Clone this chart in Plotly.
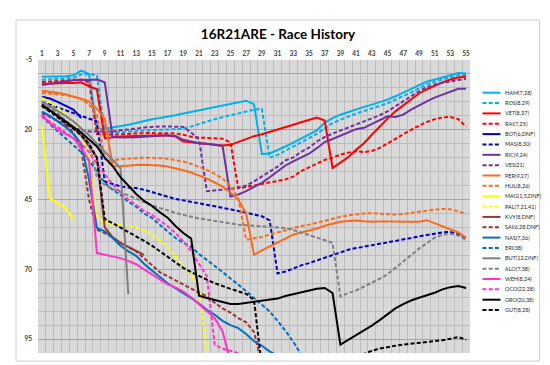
import plotly.graph_objects as go

laps = list(range(1, 56))
x_ticks = list(range(1, 56, 2))
y_ticks = [-5, 20, 45, 70, 95]

HAM = [1.0,1.0,0.8,0.8,0.5,-1.2,0.0,19.8,19.6,19.2, 18.6,18.2,17.6,16.9,16.2,15.8,15.4,14.8,14.2,13.6,
       13.0,12.4,11.8,11.2,10.7,10.2,9.6,10.8,28.7,28.5, 27.3,26.0,24.6,23.2,21.8,20.2,17.5,15.8,14.6,13.6,
       12.6,11.8,11.0,10.2,9.2,8.0,6.6,5.4,4.0,2.8, 2.0,1.2,0.5,-0.3,-0.2]
ROS = [2.1,2.0,1.8,1.6,1.4,0.2,0.0,0.5,20.8,21.0, 20.8,20.6,20.4,20.2,20.1,20.0,19.9,19.8,19.7,18.8,
       17.9,17.0,16.2,15.5,14.8,14.0,13.4,12.8,12.5,30.0, 29.0,27.5,26.0,24.5,23.0,21.5,19.5,17.6,16.4,15.2,
       14.2,13.3,12.4,11.5,10.5,9.2,8.0,6.6,5.2,3.8, 2.8,1.9,1.2,0.5,0.4]
VET = [3.6,3.4,3.3,3.2,3.2,3.0,4.4,5.5,23.0,22.6, 22.4,22.3,22.2,22.1,22.0,22.0,22.1,22.4,24.2,24.5,
       24.8,25.1,25.4,25.6,25.4,24.3,23.2,22.3,21.6,20.8, 20.0,19.1,18.2,17.3,16.5,15.6,16.7,33.7,31.8,29.8,
       27.2,24.8,21.8,18.8,16.0,13.4,11.2,9.0,7.0,5.5, 4.2,3.0,2.0,1.3,0.9]
RAI = [2.9,2.7,2.5,2.3,2.3,2.0,3.0,21.5,21.6,21.8, 21.6,21.4,21.3,21.2,21.2,21.2,21.2,21.3,21.8,22.5,
       22.8,23.0,23.0,23.2,24.5,41.0,40.5,40.0,39.5,38.9, 38.3,37.8,36.8,34.8,33.5,32.0,30.8,30.0,28.9,28.2,
       27.7,28.0,27.6,26.5,25.0,23.3,21.6,20.0,18.5,17.2, 16.2,15.6,15.4,16.2,18.8]
BOT = [8.2,8.8,10.0,11.5,12.8,15.8]
MAS = [10.0,11.0,12.0,13.0,14.0,15.0,16.0,17.0,38.5,39.5, 40.3,40.7,40.9,41.5,42.3,43.2,44.0,44.8,45.3,45.8,
       46.3,46.9,47.5,48.0,48.5,49.1,49.7,50.4,51.0,52.5, 71.5,70.8,69.6,68.6,67.8,66.8,65.8,64.8,63.8,63.0,
       62.4,61.9,61.5,61.0,60.4,59.8,59.3,58.8,58.2,57.7, 57.2,56.8,56.6,57.5,58.8]
RIC = [4.0,3.5,3.0,2.6,2.3,2.1,2.2,2.0,3.0,22.6, 22.8,22.8,22.7,22.5,22.3,22.2,22.0,22.2,23.6,24.2,
       24.8,25.0,25.3,25.8,43.9,43.2,42.0,40.6,39.0,37.0, 34.9,32.8,31.3,29.8,28.6,26.6,24.4,23.3,22.1,20.9,
       19.8,19.3,18.0,16.6,15.2,15.4,14.6,12.8,11.2,9.8, 8.5,7.4,6.2,5.3,5.3]
VES = [14.0,15.5,17.0,18.2,19.2,20.2,20.6,20.6,20.8,20.6, 20.2,20.0,19.6,19.2,18.9,18.8,18.8,18.8,19.0,21.0,
       23.5,42.0,41.8,41.5,41.2,40.8,40.0,38.5,36.8,35.0, 33.2,31.0,29.9,27.9,26.4,24.2,22.6,21.4,20.3,19.3,
       18.2,17.2,16.0,14.8,13.4,11.6,9.8,8.0,6.2,4.8, 3.8,3.2,2.6,2.2,1.7]
PER = [6.0,6.3,6.7,7.3,8.0,8.9,9.8,12.5,16.0,33.0, 33.1,32.8,32.6,32.5,32.6,32.8,33.2,33.8,34.5,35.3,
       36.3,37.5,38.9,40.4,42.5,45.0,50.0,64.8,63.2,61.8, 60.2,58.8,57.6,56.8,56.2,55.4,54.4,53.6,53.0,52.7,
       52.5,52.8,53.0,52.9,52.8,52.9,53.0,53.1,53.0,52.4, 53.5,54.6,55.6,56.8,58.6]
HUL = [6.8,7.0,7.2,7.6,8.2,9.0,11.0,14.5,30.5,31.0, 30.6,30.3,30.1,30.0,30.0,30.1,30.4,30.8,31.4,32.2,
       33.2,34.4,35.8,37.5,40.0,44.5,59.4,59.0,58.4,57.6, 56.8,56.0,55.2,54.5,54.0,53.3,52.5,51.8,51.2,50.7,
       50.3,50.0,49.9,50.1,50.3,50.4,50.2,49.8,49.3,48.9, 48.6,48.4,48.5,49.2,50.2]
MAG = [18.5,44.5,46.3,48.0,52.2]
PAL = [8.6,10.0,12.0,14.5,17.0,22.0,30.0,51.0,53.4,53.8, 54.2,54.6,55.0,56.0,57.6,59.6,62.0,65.5,69.0,72.0,
       76.0,101.0,104.0]
KVY = [11.5,13.0,15.0,17.0,19.5,22.0,26.0,30.0,55.0,58.5, 60.5,62.0,63.5,64.8]
SAI = [11.0,13.0,15.5,18.0,21.0,27.0,45.0,55.8,57.0,58.5, 60.6,62.0,63.6,66.0,68.5,71.0,72.5,74.0,75.5,77.0,
       78.4,79.6,82.0,84.0,85.5,87.5,89.0,92.5,104.0]
NAS = [13.5,15.0,17.0,19.0,21.5,25.0,38.0,55.2,56.4,58.8, 61.6,63.6,65.2,68.0,70.4,72.6,75.0,76.8,78.5,80.3,
       82.3,84.5,86.3,88.5,90.0,91.1,93.2,95.8,97.4,99.4, 101.0,103.0]
ERI = [15.0,18.0,20.5,23.0,25.5,28.0,31.0,35.0,39.0,41.5, 43.4,45.8,47.6,50.0,51.6,54.0,56.4,58.8,60.5,62.0,
       64.5,66.5,68.8,71.0,73.2,75.5,77.8,80.3,82.6,85.1, 88.5,92.0,96.0,100.5,103.0]
BUT = [9.8,11.5,13.0,15.0,17.0,19.5,22.0,25.0,28.0,31.0, 33.7,79.0]
ALO = [10.2,12.0,14.2,16.5,19.0,21.5,25.0,37.0,39.8,41.2, 42.4,43.6,44.8,46.0,47.0,48.0,49.0,49.8,50.5,51.2,
       51.8,52.2,52.7,53.1,53.6,54.0,54.2,54.4,54.5,54.6, 54.8,55.2,55.9,56.8,57.8,58.8,59.7,60.5,79.7,78.5,
       77.6,76.2,74.9,73.4,71.8,69.6,67.2,64.9,62.6,60.5, 58.7,57.6,57.3,57.9,59.4]
WEH = [14.6,17.5,20.0,21.5,23.0,26.5,31.0,64.2,64.8,65.3, 66.0,67.0,68.2,70.0,71.8,73.8,75.4,76.5,78.0,80.0,
       82.6,85.0,87.5,92.3,103.0]
OCO = [15.5,17.0,19.0,21.0,23.0,25.0,28.0,32.0,36.0,39.5, 42.5,45.0,47.0,49.0,50.5,52.5,54.5,57.0,60.0,63.5,
       68.0,72.5,97.0,98.5,99.2,100.0,101.0]
GRO = [11.0,13.0,15.0,17.0,19.0,21.0,23.5,26.0,30.0,33.0, 37.0,40.0,43.0,45.5,47.3,49.5,51.5,54.5,57.0,59.0,
       79.5,80.3,81.0,81.5,82.4,82.4,82.0,81.6,81.3,81.0, 80.5,79.6,79.0,78.3,77.6,77.0,76.7,78.5,97.0,95.3,
       93.8,92.0,90.2,88.2,86.0,84.0,82.5,81.2,80.2,79.4, 78.4,77.2,76.4,76.0,76.7]
GUT = [11.5,13.5,15.5,17.5,19.5,22.0,25.0,30.0,52.0,53.5, 55.0,56.5,58.0,59.8,61.5,63.5,65.5,67.5,69.5,71.0,
       72.5,73.7,75.0,76.1,77.0,77.9,78.8,81.0,105.0,107.0, 109.0,110.0,110.0,111.0,111.0,110.0,109.0,108.0,106.0,104.0,
       101.5,100.3,99.2,98.4,97.8,97.4,97.0,96.7,96.4,96.2, 95.9,95.4,94.9,94.3,95.2]

names = ["HAM(7,28)", "ROS(8,29)", "VET(8,37)", "RAI(7,25)", "BOT(6,DNF)", "MAS(8,30)",
         "RIC(9,24)", "VES(21)", "PER(9,27)", "HUL(8,26)", "MAG(1,5,DNF)", "PAL(7,21,41)",
         "KVY(8,DNF)", "SAI(6,28,DNF)", "NAS(7,36)", "ERI(38)", "BUT(12,DNF)", "ALO(7,38)",
         "WEH(8,24)", "OCO(22,38)", "GRO(20,38)", "GUT(8,28)"]
series = [HAM, ROS, VET, RAI, BOT, MAS, RIC, VES, PER, HUL, MAG, PAL,
          KVY, SAI, NAS, ERI, BUT, ALO, WEH, OCO, GRO, GUT]
colors = ["#00B0F0", "#00B0F0", "#FF0000", "#FF0000", "#0000C8", "#0000C8",
          "#7030A0", "#7030A0", "#FF6A1A", "#FF6A1A", "#FFFF00", "#FFFF00",
          "#963634", "#963634", "#0070C0", "#0070C0", "#808080", "#808080",
          "#FF33CC", "#FF33CC", "#000000", "#000000"]
DASH = "4px,2.2px"

fig = go.Figure()
for i, (nm, vals) in enumerate(zip(names, series)):
    fig.add_trace(go.Scatter(
        x=laps[:len(vals)], y=vals, mode="lines", name=nm,
        line=dict(color=colors[i], width=2, dash="solid" if i % 2 == 0 else DASH),
        showlegend=False))

W, H = 550, 365
L, R, T, B = 30, 462.5, 52, 345
pw, ph = R - L, B - T

def px(x):
    return (x - L) / pw

def py(y):
    return (B - y) / ph

shapes = []
annotations = []
shapes.append(dict(type="rect", xref="paper", yref="paper",
                   x0=px(8), x1=px(532), y0=py(353), y1=py(12),
                   line=dict(color="#D0D0D0", width=1), layer="below"))
for i, nm in enumerate(names):
    yy = 84.7 + i * 10.35
    shapes.append(dict(type="line", xref="paper", yref="paper",
                       x0=px(475), x1=px(493), y0=py(yy), y1=py(yy),
                       line=dict(color=colors[i], width=2,
                                 dash="solid" if i % 2 == 0 else DASH)))
    annotations.append(dict(xref="paper", yref="paper", x=px(495.5), y=py(yy),
                            text=nm, showarrow=False, xanchor="left", yanchor="middle",
                            font=dict(size=5.5, color="#262626", family="Lato")))

fig.update_layout(
    width=W, height=H,
    margin=dict(l=L, r=W - R, t=T, b=H - B, pad=0),
    paper_bgcolor="white", plot_bgcolor="#D9D9D9",
    title=dict(text="<b>16R21ARE - Race History</b>", x=270 / W, xanchor="center",
               y=1 - 26 / H, yanchor="middle",
               font=dict(family="Lato", size=13.5, color="#000000")),
    font=dict(family="Lato"),
    shapes=shapes, annotations=annotations,
    showlegend=False,
)
fig.update_xaxes(
    range=[0.5, 55.5], side="top", tickmode="array", tickvals=x_ticks,
    ticktext=["<b>%d</b>" % v for v in x_ticks], showgrid=False, ticks="",
    tickfont=dict(size=6.5, color="#404040", family="Lato"),
    showline=False, zeroline=False, ticklabelstandoff=2,
    minor=dict(tickmode="array", tickvals=[v + 0.5 for v in range(0, 56)],
               showgrid=True, gridcolor="#BDBDBD", gridwidth=1, ticks=""),
)
fig.update_yaxes(
    range=[100, -5], tickmode="array", tickvals=y_ticks,
    ticktext=["<b>%d</b>" % v for v in y_ticks], showgrid=True, gridcolor="#A6A6A6", gridwidth=1,
    tickfont=dict(size=6.5, color="#404040", family="Lato"), ticks="",
    zeroline=True, zerolinecolor="#A6A6A6", zerolinewidth=1, showline=False,
    ticklabelstandoff=5,
    minor=dict(tickmode="array", tickvals=list(range(-5, 101, 5)),
               showgrid=True, gridcolor="#BDBDBD", gridwidth=1, ticks=""),
)

fig.write_html("out.html")
